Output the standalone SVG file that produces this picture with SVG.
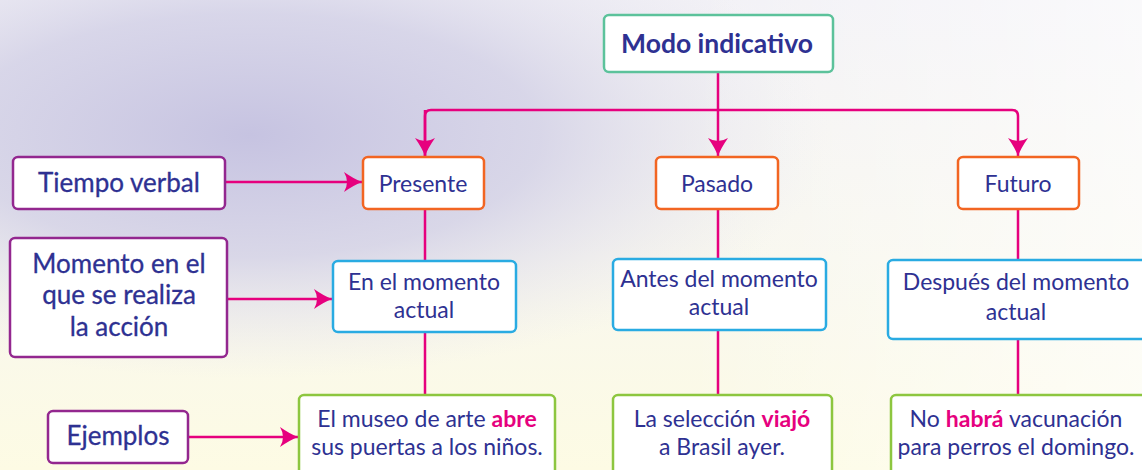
<svg xmlns="http://www.w3.org/2000/svg" width="1142" height="470" viewBox="0 0 1142 470">
  <defs>
    <linearGradient id="bgv" x1="0" y1="0" x2="0" y2="1">
      <stop offset="0" stop-color="#f2f1f6"/>
      <stop offset="0.55" stop-color="#f8f7ee"/>
      <stop offset="1" stop-color="#fdfbe4"/>
    </linearGradient>
    <radialGradient id="lav" gradientUnits="userSpaceOnUse" cx="250" cy="135" r="580" gradientTransform="translate(250 135) scale(1 0.42) translate(-250 -135)">
      <stop offset="0" stop-color="#c6c3e1" stop-opacity="1"/>
      <stop offset="0.5" stop-color="#d1cfe6" stop-opacity="0.8"/>
      <stop offset="1" stop-color="#e6e4f0" stop-opacity="0"/>
    </radialGradient>
    <linearGradient id="rightfade" x1="0" y1="0" x2="1" y2="0">
      <stop offset="0.6" stop-color="#ffffff" stop-opacity="0"/>
      <stop offset="1" stop-color="#ffffff" stop-opacity="0.6"/>
    </linearGradient>
    <marker id="arr" markerUnits="userSpaceOnUse" markerWidth="20" markerHeight="22" refX="18" refY="10" orient="auto" overflow="visible">
      <path d="M0,0 Q10,7 18,10 Q10,13 0,20 Q6,10 0,0 Z" fill="#e6007e"/>
    </marker>
    <style>
      .box{fill:#ffffff;stroke-width:2.5}
      .teal{stroke:#5cc29b}
      .purple{stroke:#93278f}
      .orange{stroke:#f26522}
      .blue{stroke:#29abe2}
      .green{stroke:#8dc63f}
      .t{font-family:Lato,"Open Sans","Liberation Sans",sans-serif;fill:#2e3192;text-anchor:middle;font-size:23px}
      .lab{font-size:26px;stroke:#2e3192;stroke-width:0.3}
      .title{font-size:26.5px;font-weight:700}
      .hl{fill:#e6007e;font-weight:700}
      .ln{fill:none;stroke:#e6007e;stroke-width:2.5;stroke-linejoin:round}
      .ar{marker-end:url(#arr)}
    </style>
  </defs>

  <g id="background">
    <rect x="0" y="0" width="1142" height="470" fill="url(#bgv)"/>
    <rect x="0" y="0" width="1142" height="470" fill="url(#lav)"/>
    <rect x="0" y="0" width="1142" height="470" fill="url(#rightfade)"/>
  </g>

  <g id="connectors">
    <path class="ln" d="M718,72 V110"/>
    <path class="ln ar" d="M425,156 V116 Q425,110 431,110 H1012 Q1018,110 1018,116 V156"/>
    <path class="ln ar" d="M718,110 V156"/>
    <path class="ln ar" d="M425,110 V156"/>
    <path class="ln" d="M425,209 V261 M425,332 V395"/>
    <path class="ln" d="M718,209 V259 M718,330 V395"/>
    <path class="ln" d="M1018,209 V260 M1018,339 V395"/>
    <path class="ln ar" d="M225,182 H362"/>
    <path class="ln ar" d="M227,299 H332"/>
    <path class="ln ar" d="M188,437 H298"/>
  </g>

  <g id="modo-indicativo">
    <rect class="box teal" x="604" y="15" width="229" height="57" rx="5"/>
    <text class="t title" x="717" y="53">Modo indicativo</text>
  </g>

  <g id="tiempo-verbal">
    <rect class="box purple" x="13" y="157" width="212" height="52" rx="5"/>
    <text class="t lab" x="119" y="192">Tiempo verbal</text>
  </g>
  <g id="momento">
    <rect class="box purple" x="10" y="238" width="217" height="119" rx="5"/>
    <text class="t lab" x="119" y="273">Momento en el</text>
    <text class="t lab" x="119" y="304">que se realiza</text>
    <text class="t lab" x="119" y="336">la acción</text>
  </g>
  <g id="ejemplos">
    <rect class="box purple" x="48" y="411" width="140" height="52" rx="5"/>
    <text class="t lab" x="118" y="445">Ejemplos</text>
  </g>

  <g id="presente">
    <rect class="box orange" x="363" y="157" width="121" height="52" rx="5"/>
    <text class="t" x="423" y="192">Presente</text>
  </g>
  <g id="pasado">
    <rect class="box orange" x="656" y="157" width="122" height="52" rx="5"/>
    <text class="t" x="717" y="192">Pasado</text>
  </g>
  <g id="futuro">
    <rect class="box orange" x="958" y="157" width="121" height="52" rx="5"/>
    <text class="t" x="1018" y="192">Futuro</text>
  </g>

  <g id="en-el-momento">
    <rect class="box blue" x="333" y="261" width="183" height="71" rx="5"/>
    <text class="t" x="424" y="290">En el momento</text>
    <text class="t" x="424" y="318">actual</text>
  </g>
  <g id="antes-del-momento">
    <rect class="box blue" x="613" y="259" width="213" height="71" rx="5"/>
    <text class="t" x="719" y="287">Antes del momento</text>
    <text class="t" x="719" y="315">actual</text>
  </g>
  <g id="despues-del-momento">
    <rect class="box blue" x="888" y="260" width="270" height="79" rx="5"/>
    <text class="t" x="1016" y="290">Después del momento</text>
    <text class="t" x="1016" y="320">actual</text>
  </g>

  <g id="ejemplo-presente">
    <rect class="box green" x="299" y="395" width="256" height="90" rx="5"/>
    <text class="t" x="427" y="427">El museo de arte <tspan class="hl">abre</tspan></text>
    <text class="t" x="427" y="455">sus puertas a los niños.</text>
  </g>
  <g id="ejemplo-pasado">
    <rect class="box green" x="613" y="395" width="219" height="90" rx="5"/>
    <text class="t" x="722" y="427">La selección <tspan class="hl">viajó</tspan></text>
    <text class="t" x="722" y="455">a Brasil ayer.</text>
  </g>
  <g id="ejemplo-futuro">
    <rect class="box green" x="891" y="395" width="270" height="90" rx="5"/>
    <text class="t" x="1016" y="427">No <tspan class="hl">habrá</tspan> vacunación</text>
    <text class="t" x="1016" y="455">para perros el domingo.</text>
  </g>
</svg>
